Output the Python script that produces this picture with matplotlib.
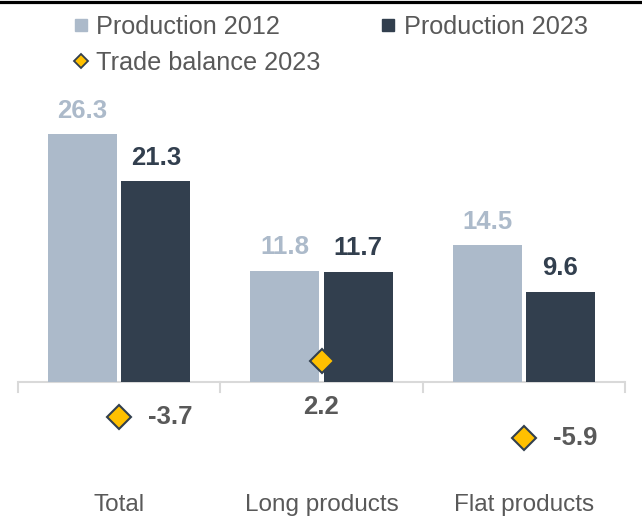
import matplotlib
matplotlib.use("Agg")
import matplotlib.pyplot as plt
from matplotlib.lines import Line2D
import numpy as np

categories = ["Total", "Long products", "Flat products"]
prod_2012 = [26.3, 11.8, 14.5]
prod_2023 = [21.3, 11.7, 9.6]
trade_2023 = [-3.7, 2.2, -5.9]
legend_labels = ["Production 2012", "Production 2023", "Trade balance 2023"]

LIGHT = "#ACBACA"
DARK = "#323F4E"
GOLD = "#FFC000"
GRAY_TXT = "#595959"
AXIS = "#D9D9D9"

plt.rcParams['font.family'] = ['Liberation Sans', 'DejaVu Sans']

W, H = 642, 517
fig = plt.figure(figsize=(W / 100, H / 100), dpi=100)
top_px, bot_px, left_px, right_px = 90, 470, 18, 625
ax = fig.add_axes([left_px / W, (H - bot_px) / H, (right_px - left_px) / W, (bot_px - top_px) / H])

scale = 9.42
zero_px = 382
ax.set_ylim(-(bot_px - zero_px) / scale, (zero_px - top_px) / scale)
ax.set_xlim(-0.5, len(categories) - 0.5)

x = np.arange(len(categories))
bw = 0.342
off = 0.181
ax.bar(x - off, prod_2012, bw, color=LIGHT, zorder=2)
ax.bar(x + off, prod_2023, bw, color=DARK, zorder=2)

fs_val = 18.5
fs_cat = 17.5
fs_leg = 18.2
for xi, v in zip(x - off, prod_2012):
    ax.annotate(f"{v:.1f}", (xi, v), xytext=(0, 12), textcoords="offset points",
                ha="center", va="baseline", fontsize=fs_val, fontweight="bold", color=LIGHT)
for xi, v in zip(x + off, prod_2023):
    ax.annotate(f"{v:.1f}", (xi, v), xytext=(0, 12), textcoords="offset points",
                ha="center", va="baseline", fontsize=fs_val, fontweight="bold", color=DARK)

# zero line and separators
ax.axhline(0, color=AXIS, lw=1.5, zorder=1)
for b in np.arange(len(categories) + 1) - 0.5:
    ax.plot([b, b], [0, -9.5 / scale], color=AXIS, lw=1.5, zorder=1, clip_on=False)

ax.plot(x, trade_2023, linestyle="none", marker="D", markersize=12.5,
        markerfacecolor=GOLD, markeredgecolor=DARK, markeredgewidth=1.5, zorder=4)
for xi, v in zip(x, trade_2023):
    if v >= 0:
        ax.annotate(f"{v:.1f}", (xi, v), xytext=(0, -33), textcoords="offset points",
                    ha="center", va="center", fontsize=fs_val, fontweight="bold", color=GRAY_TXT)
    else:
        ax.annotate(f"{v:.1f}", (xi, v), xytext=(21, 0), textcoords="offset points",
                    ha="left", va="center", fontsize=fs_val, fontweight="bold", color=GRAY_TXT)

ax.set_xticks(x)
ax.set_xticklabels(categories, fontsize=fs_cat, color=GRAY_TXT)
ax.tick_params(axis="x", length=0, pad=17)
ax.set_yticks([])
for s in ax.spines.values():
    s.set_visible(False)

handles = [
    Line2D([], [], linestyle="none", marker="s", markersize=8.5, color=LIGHT),
    Line2D([], [], linestyle="none", marker="D", markersize=6.8,
           markerfacecolor=GOLD, markeredgecolor=DARK, markeredgewidth=1.3),
    Line2D([], [], linestyle="none", marker="s", markersize=8.5, color=DARK),
]
labels = [legend_labels[0], legend_labels[2], legend_labels[1]]
fig.legend(handles, labels, ncol=2, loc="upper left",
           bbox_to_anchor=(73 / W, 1 - 15 / H), frameon=False, fontsize=fs_leg,
           handlelength=0.6, handletextpad=0.3, columnspacing=2.4,
           labelspacing=0.47, borderpad=0, borderaxespad=0, labelcolor=GRAY_TXT)

fig.add_artist(Line2D([0, 1], [1 - 1.5 / H, 1 - 1.5 / H], color="black", lw=2.3,
                      transform=fig.transFigure))

fig.savefig("out.png", dpi=100, facecolor="white")
